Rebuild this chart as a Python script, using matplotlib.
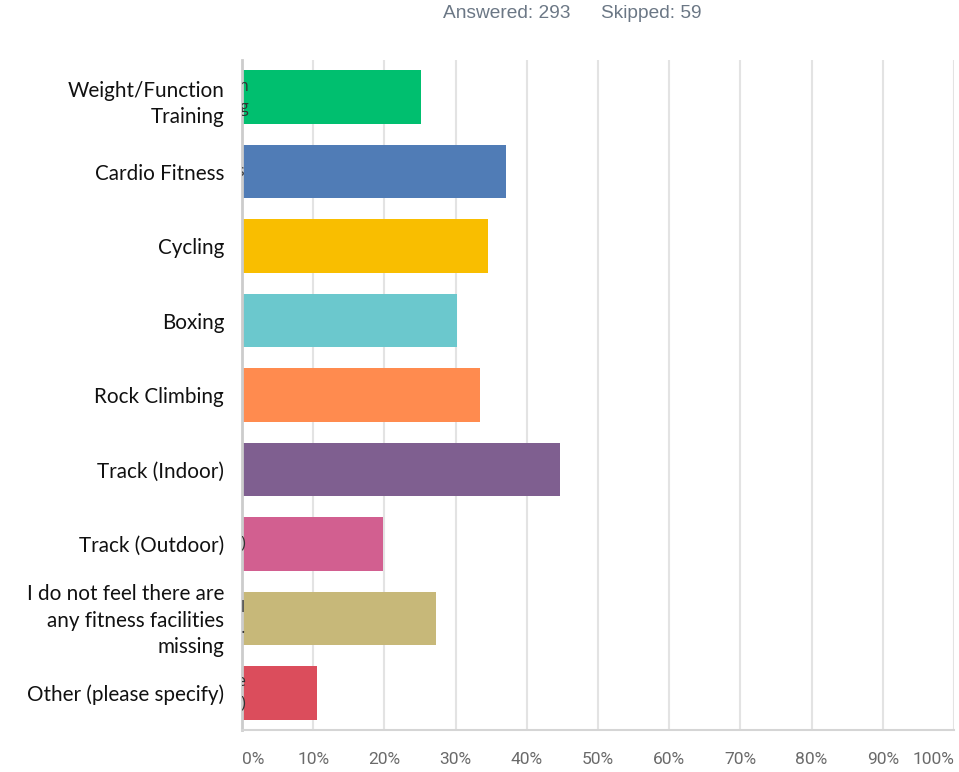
import matplotlib
matplotlib.use('Agg')
import matplotlib.pyplot as plt

categories = ['Weight/Function\nTraining', 'Cardio Fitness', 'Cycling', 'Boxing',
              'Rock Climbing', 'Track (Indoor)', 'Track (Outdoor)',
              'I do not feel there are\nany fitness facilities\nmissing',
              'Other (please specify)']
values = [25.2, 37.1, 34.6, 30.2, 33.4, 44.6, 19.8, 27.3, 10.6]
colors = ['#00BF6F', '#507CB6', '#F9BE00', '#6BC8CD', '#FF8B4F',
          '#7F5F90', '#D25F90', '#C7B879', '#DB4D5C']
xticks = [0, 10, 20, 30, 40, 50, 60, 70, 80, 90, 100]
xticklabels = ['0%', '10%', '20%', '30%', '40%', '50%', '60%', '70%', '80%', '90%', '100%']
# leftover tail ends of the original survey labels peeking out at the bar starts
fragments = {0: ('n\ng', 0.9),
             1: ('s', 0.25),
             6: (')', 0.45),
             7: ('l\n…', 0.4),
             8: ('e\n)', 0.5)}

fig = plt.figure(figsize=(9.59, 7.72), dpi=100)
ax = fig.add_axes([242 / 959, 1 - 730 / 772, 712 / 959, 670 / 772])

y = list(range(len(categories)))
ax.barh(y, values, height=0.72, color=colors, zorder=2)
ax.set_ylim(len(categories) - 0.5, -0.5)
ax.set_xlim(0, 100)

ax.set_xticks(xticks)
ax.set_xticklabels([])
ax.tick_params(axis='both', length=0)
ax.set_yticks(y)
ax.set_yticklabels([])
ax.grid(axis='x', color='#e3e3e3', linewidth=1.5, zorder=0)
for s in ['top', 'right']:
    ax.spines[s].set_visible(False)
ax.spines['left'].set_color('#cccccc')
ax.spines['left'].set_linewidth(2)
ax.spines['bottom'].set_color('#d5d5d5')
ax.spines['bottom'].set_linewidth(1.5)

# tick labels (first and last nudged inward like the original)
for t, lab in zip(xticks, xticklabels):
    ha = 'center'
    if t == 0:
        ha = 'left'
    elif t == 100:
        ha = 'right'
    ax.text(t, -30 / 670, lab, transform=ax.get_xaxis_transform(), ha=ha, va='center',
            fontsize=12.5, color='#6a6a6a', family='Roboto')

# category labels, sitting a touch low like the pasted-over originals
for i, lab in enumerate(categories):
    dy = 0.09 if i == 0 else 0.03
    ax.text(-2.5, i + dy, lab, ha='right', va='center', fontsize=14.9, color='#111111',
            family='Lato', linespacing=1.42, clip_on=False)

for i, (lab, xr) in fragments.items():
    ax.text(xr, i, lab, ha='right', va='center', fontsize=11.5, color='#333333',
            family='Open Sans', linespacing=1.45, clip_on=True, zorder=3)

fig.text(443 / 959, 1 - 14 / 772, 'Answered: 293', ha='left', va='center',
         fontsize=13.8, color='#6b7785', family='Liberation Sans')
fig.text(601 / 959, 1 - 14 / 772, 'Skipped: 59', ha='left', va='center',
         fontsize=13.8, color='#6b7785', family='Liberation Sans')

fig.savefig('out.png', dpi=100)
